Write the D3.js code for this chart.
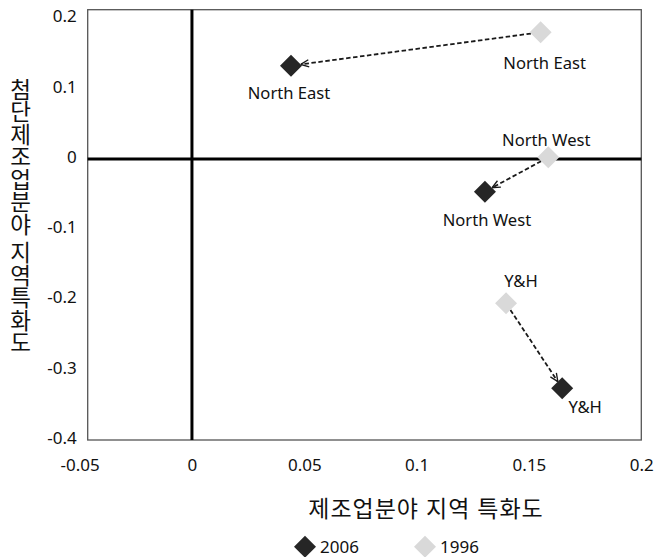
<!DOCTYPE html>
<html>
<head>
<meta charset="utf-8">
<script src="https://cdn.jsdelivr.net/npm/d3@7"></script>
<style>
  html, body { margin: 0; padding: 0; background: #fff; }
  svg { display: block; }
  text { font-family: "Noto Sans", "Noto Sans CJK KR", sans-serif; fill: #111; }
</style>
</head>
<body>
<svg id="chart" width="659" height="557"></svg>
<script>
// ---- data ----
const regions = ["North East", "North West", "Y&H"];
const x1996 = [0.1552, 0.1586, 0.1398];
const y1996 = [0.1804, 0.0024, -0.2054];
const x2006 = [0.0441, 0.1304, 0.1648];
const y2006 = [0.1328, -0.0465, -0.3264];
const seriesNames = ["2006", "1996"];
const xTicks = [-0.05, 0, 0.05, 0.1, 0.15, 0.2];
const xTickLabels = ["-0.05", "0", "0.05", "0.1", "0.15", "0.2"];
const yTicks = [-0.4, -0.3, -0.2, -0.1, 0, 0.1, 0.2];
const yTickLabels = ["-0.4", "-0.3", "-0.2", "-0.1", "0", "0.1", "0.2"];
const xTitle = "제조업분야 지역 특화도";
const yTitle = "첨단제조업분야 지역특화도";

// ---- style / layout ----
const colors = { "2006": "#262626", "1996": "#d9d9d9" };
const plot = { left: 87.7, right: 641.3, top: 9.7, bottom: 440 };
// label offsets (px) relative to each point: [dx, dy]
const labelOff1996 = [[4, 30], [-2, -18], [15, -23]];
const labelOff2006 = [[-2, 27], [2, 28], [23, 18]];
const half = 11; // half-diagonal of diamond

const svg = d3.select("#chart");
const x = d3.scaleLinear().domain([-0.0464, 0.2]).range([plot.left, plot.right]);
const y = d3.scaleLinear().domain([-0.4, 0.2125]).range([plot.bottom, plot.top]);

// frame
svg.append("rect")
  .attr("x", plot.left).attr("y", plot.top)
  .attr("width", plot.right - plot.left).attr("height", plot.bottom - plot.top)
  .attr("fill", "none").attr("stroke", "#555").attr("stroke-width", 1.3);

// zero lines
svg.append("line").attr("x1", plot.left).attr("x2", plot.right)
  .attr("y1", y(0)).attr("y2", y(0)).attr("stroke", "#000").attr("stroke-width", 3);
svg.append("line").attr("x1", x(0)).attr("x2", x(0))
  .attr("y1", plot.top).attr("y2", plot.bottom).attr("stroke", "#000").attr("stroke-width", 3);

// axes
const xAxis = d3.axisBottom(x).tickValues(xTicks).tickSize(0)
  .tickFormat((d, i) => xTickLabels[i]);
const gx = svg.append("g").attr("transform", `translate(0,${plot.bottom})`).call(xAxis);
gx.select(".domain").remove();
gx.selectAll("text").attr("font-size", 17).attr("font-family", null).attr("fill", "#111")
  .attr("dy", "0").attr("y", 31);

const yAxis = d3.axisLeft(y).tickValues(yTicks).tickSize(0)
  .tickFormat((d, i) => yTickLabels[i]);
const gy = svg.append("g").attr("transform", `translate(${plot.left},0)`).call(yAxis);
gy.select(".domain").remove();
gy.selectAll("text").attr("font-size", 17).attr("font-family", null).attr("fill", "#111")
  .attr("x", -11).attr("dy", "0.2em");

// arrow marker
const defs = svg.append("defs");
defs.append("marker").attr("id", "arr")
  .attr("viewBox", "0 0 10 10").attr("refX", 10).attr("refY", 5)
  .attr("markerWidth", 9).attr("markerHeight", 9)
  .attr("markerUnits", "userSpaceOnUse").attr("orient", "auto")
  .append("path").attr("d", "M1,1 L10,5 L1,9")
  .attr("fill", "none").attr("stroke", "#1a1a1a").attr("stroke-width", 1.5);

// arrows from 1996 to 2006
regions.forEach((r, i) => {
  const x0 = x(x1996[i]), y0 = y(y1996[i]);
  const x1 = x(x2006[i]), y1 = y(y2006[i]);
  const dx = x1 - x0, dy = y1 - y0, len = Math.hypot(dx, dy);
  const ux = dx / len, uy = dy / len;
  const rr = half / (Math.abs(ux) + Math.abs(uy));
  svg.append("line")
    .attr("x1", x0 + ux * rr).attr("y1", y0 + uy * rr)
    .attr("x2", x1 - ux * rr).attr("y2", y1 - uy * rr)
    .attr("stroke", "#1a1a1a").attr("stroke-width", 1.8)
    .attr("stroke-dasharray", "4.5,2.5")
    .attr("marker-end", "url(#arr)");
});

const diamond = d3.symbol().type(d3.symbolSquare).size((half * Math.SQRT2) ** 2);

function drawSeries(xs, ys, color, offs) {
  regions.forEach((r, i) => {
    const px = x(xs[i]), py = y(ys[i]);
    svg.append("path").attr("d", diamond())
      .attr("transform", `translate(${px},${py}) rotate(45)`)
      .attr("fill", color);
    svg.append("text").attr("x", px + offs[i][0]).attr("y", py + offs[i][1])
      .attr("text-anchor", "middle").attr("dominant-baseline", "central")
      .attr("font-size", 16.6).text(r);
  });
}
drawSeries(x1996, y1996, colors["1996"], labelOff1996);
drawSeries(x2006, y2006, colors["2006"], labelOff2006);

// axis titles
svg.append("text").attr("x", 426).attr("y", 508)
  .attr("text-anchor", "middle").attr("dominant-baseline", "central")
  .attr("font-family", "'Noto Sans CJK KR', sans-serif")
  .attr("font-size", 23).attr("letter-spacing", 1).attr("fill", "#222").text(xTitle);

svg.append("text").attr("x", 19).attr("y", 216)
  .attr("text-anchor", "middle")
  .attr("font-family", "'Noto Sans CJK KR', sans-serif")
  .attr("font-size", 22.5).attr("fill", "#222")
  .style("writing-mode", "vertical-rl").text(yTitle);

// legend
const legendX = [305, 425];
seriesNames.forEach((s, i) => {
  svg.append("path").attr("d", diamond())
    .attr("transform", `translate(${legendX[i]},546.7) rotate(45)`)
    .attr("fill", colors[s]);
  svg.append("text").attr("x", legendX[i] + 15).attr("y", 546.7)
    .attr("dominant-baseline", "central").attr("font-size", 17).text(s);
});
</script>
</body>
</html>
